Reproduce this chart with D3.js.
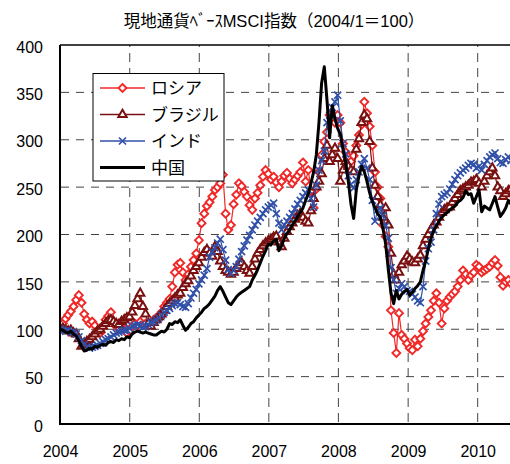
<!DOCTYPE html>
<html><head><meta charset="utf-8">
<script src="https://cdn.jsdelivr.net/npm/d3@7"></script>
<style>
body{margin:0;background:#fff;}
text{font-family:"Liberation Sans","Noto Sans CJK JP",sans-serif;fill:#000;}
</style></head>
<body><svg id="c" width="510" height="464"></svg>
<script>
const title = "現地通貨ﾍﾞｰｽMSCI指数（2004/1＝100）";
const seriesNames = ["ロシア","ブラジル","インド","中国"];
const yearTicks = [2004,2005,2006,2007,2008,2009,2010];
const yTicks = [0,50,100,150,200,250,300,350,400];
const startDate = "2004-01-02";
const stepDays = 14;

const russia = [100,106,111,115,119,124,131,136,128,116,110,106,108,104,99,96,103,110,114,118,108,103,102,106,100,96,
98,103,106,104,108,105,106,104,107,110,112,113,118,124,128,132,145,160,168,170,160,152,158,166,173,180,
194,212,222,230,234,240,247,250,254,263,222,205,210,232,242,254,251,245,240,231,226,238,244,252,261,268,
264,258,261,255,250,256,262,265,259,254,258,262,266,276,256,268,246,228,248,266,284,298,308,326,322,318,
326,318,296,287,282,277,283,294,305,316,340,328,314,294,266,250,238,210,198,187,120,96,75,117,94,90,
85,80,78,89,82,90,98,106,113,120,130,138,128,106,122,130,134,137,140,145,152,162,158,152,157,160,
168,166,160,162,164,166,170,173,167,155,146,150,152,148];

const brazil = [100,101,99,98,99,96,95,90,82,84,87,89,92,95,98,100,103,106,109,110,108,106,105,108,110,112,
113,118,125,132,138,124,116,106,103,107,110,113,116,120,124,127,130,133,136,138,144,148,151,156,162,166,
170,176,181,184,180,177,187,182,172,166,162,160,158,160,164,167,170,166,162,159,166,174,180,184,188,191,
193,195,197,198,192,187,196,203,208,212,216,220,222,218,214,212,225,238,250,256,264,280,294,277,284,291,
280,256,268,277,272,268,266,290,301,318,326,322,298,270,252,240,231,218,228,210,180,158,152,160,168,172,
177,174,171,170,174,178,188,195,200,205,210,213,218,223,226,228,229,234,238,242,246,248,250,252,255,256,
258,254,250,256,262,266,270,262,250,246,240,243,246,248];

const india = [100,99,98,99,97,97,95,92,88,84,81,80,81,82,83,85,87,89,90,92,94,96,97,98,99,99,
101,103,104,105,104,102,103,105,107,108,110,112,115,118,120,122,125,127,128,126,124,123,127,133,138,142,
148,152,157,164,176,182,186,191,195,184,173,163,159,162,166,174,182,188,194,199,205,210,214,218,222,226,
229,231,233,222,212,205,210,214,218,222,227,232,236,240,244,247,238,229,252,268,278,288,318,326,334,340,
347,320,296,285,262,253,249,258,266,274,280,270,258,236,214,226,228,220,209,196,165,152,138,143,148,145,
141,140,137,134,130,128,145,172,185,192,205,222,232,240,242,244,248,253,258,262,265,268,270,273,275,274,
270,272,268,274,278,282,284,286,280,276,275,279,282,278];

const china = [100,99,97,96,98,95,93,88,82,77,78,80,79,82,81,83,84,83,86,87,86,89,88,90,89,92,
91,95,97,98,97,96,97,96,95,94,94,96,98,97,100,106,105,108,107,110,104,99,102,106,108,112,
115,118,122,124,127,131,135,141,145,140,134,128,126,130,134,137,139,141,143,145,152,157,163,170,177,183,
190,189,193,195,183,188,196,201,205,210,214,219,223,228,236,243,254,266,284,318,360,377,342,302,336,322,
312,306,290,276,256,232,217,247,262,272,266,256,244,235,228,222,218,206,190,163,138,127,141,132,137,140,
142,136,139,143,146,150,162,172,185,196,204,209,214,218,221,223,226,228,230,234,236,239,246,242,243,233,
240,247,224,230,228,226,233,240,229,219,223,228,236,232];

const svg = d3.select("#c");
const L = 60, T = 45, B = 424;
const x = d3.scaleTime().domain([new Date(2004,0,1), new Date(2010,0,1)]).range([L, 477.7]);
const y = d3.scaleLinear().domain([0,400]).range([B, T]);
const t0 = d3.timeParse("%Y-%m-%d")(startDate);
const dateAt = i => d3.timeDay.offset(t0, i*stepDays);

// title
svg.append("text").attr("x", 274).attr("y", 27).attr("text-anchor","middle")
  .style("font-size","16.5px").text(title);

// gridlines
const grid = svg.append("g");
grid.selectAll(".hg").data(yTicks.filter(v => v>0 && v<400)).join("line")
  .attr("x1", L+1).attr("x2", 510).attr("y1", d=>y(d)).attr("y2", d=>y(d))
  .attr("stroke","#444").attr("stroke-width",1).attr("stroke-dasharray","8,7");
grid.selectAll(".vg").data(yearTicks.filter(v => v>2004)).join("line")
  .attr("x1", d=>x(new Date(d,0,1))).attr("x2", d=>x(new Date(d,0,1)))
  .attr("y1", B-2).attr("y2", T)
  .attr("stroke","#444").attr("stroke-width",1).attr("stroke-dasharray","9,6");

// y axis labels
const yAxis = d3.axisLeft(y).tickValues(yTicks).tickSize(0).tickPadding(17);
const ya = svg.append("g").attr("transform",`translate(${L},0)`).call(yAxis);
ya.select(".domain").remove();
ya.selectAll("text").style("font-size","16px").attr("dy","0.45em").attr("x",-17);

// x axis labels
const xAxis = d3.axisBottom(x).tickValues(yearTicks.map(v=>new Date(v,0,1)))
  .tickFormat(d3.timeFormat("%Y")).tickSize(0).tickPadding(22);
const xa = svg.append("g").attr("transform",`translate(0,${B})`).call(xAxis);
xa.select(".domain").remove();
xa.selectAll("text").style("font-size","16px");

// clip
svg.append("clipPath").attr("id","clip").append("rect")
  .attr("x",L).attr("y",T-10).attr("width",510-L).attr("height",B-T+10);
const plot = svg.append("g").attr("clip-path","url(#clip)");

const cfg = [
  {data: russia, color:"#F02828", w:1.2, marker:"diamond"},
  {data: brazil, color:"#7A1010", w:1.2, marker:"triangle"},
  {data: india,  color:"#3050A8", w:1.2, marker:"cross"},
  {data: china,  color:"#000000", w:3, marker:null}
];

function drawMarker(g, type, color, cx, cy){
  if(type==="diamond"){
    g.append("path").attr("d", d3.symbol(d3.symbolDiamond2, 40)(0))
      .attr("transform",`translate(${cx},${cy})`)
      .attr("fill","#fff").attr("stroke",color).attr("stroke-width",1.9);
  } else if(type==="triangle"){
    g.append("path").attr("d", d3.symbol(d3.symbolTriangle, 30)(0))
      .attr("transform",`translate(${cx},${cy})`)
      .attr("fill","#fff").attr("stroke",color).attr("stroke-width",2);
  } else if(type==="cross"){
    g.append("path").attr("d", d3.symbol(d3.symbolX, 34)(0))
      .attr("transform",`translate(${cx},${cy})`)
      .attr("fill","none").attr("stroke",color).attr("stroke-width",1.7);
  }
}

cfg.forEach(s=>{
  const line = d3.line().x((d,i)=>x(dateAt(i))).y(d=>y(d));
  plot.append("path").datum(s.data).attr("d", line)
    .attr("fill","none").attr("stroke", s.color).attr("stroke-width", s.w)
    .attr("stroke-linejoin","round");
  if(s.marker){
    const mg = plot.append("g");
    s.data.forEach((v,i)=>drawMarker(mg, s.marker, s.color, x(dateAt(i)), y(v)));
  }
});

// axes lines
svg.append("line").attr("x1",L).attr("x2",510).attr("y1",T).attr("y2",T)
  .attr("stroke","#000").attr("stroke-width",1.5);
svg.append("line").attr("x1",L).attr("x2",L).attr("y1",T).attr("y2",B+1)
  .attr("stroke","#000").attr("stroke-width",2);
svg.append("line").attr("x1",L-1).attr("x2",510).attr("y1",B).attr("y2",B)
  .attr("stroke","#000").attr("stroke-width",2);

// legend
const lg = svg.append("g");
lg.append("rect").attr("x",93).attr("y",73.5).attr("width",131).attr("height",107.5)
  .attr("fill","#fff").attr("stroke","#000").attr("stroke-width",1);
const legY = [88,114.5,141,167.5];
cfg.forEach((s,k)=>{
  lg.append("line").attr("x1",100).attr("x2",145).attr("y1",legY[k]).attr("y2",legY[k])
    .attr("stroke",s.color).attr("stroke-width", s.marker ? 1.5 : 3);
  if(s.marker) drawMarker(lg, s.marker, s.color, 122.5, legY[k]);
  lg.append("text").attr("x",151).attr("y",legY[k]).attr("dy","0.36em")
    .style("font-size","17px").text(seriesNames[k]);
});
</script></body></html>
